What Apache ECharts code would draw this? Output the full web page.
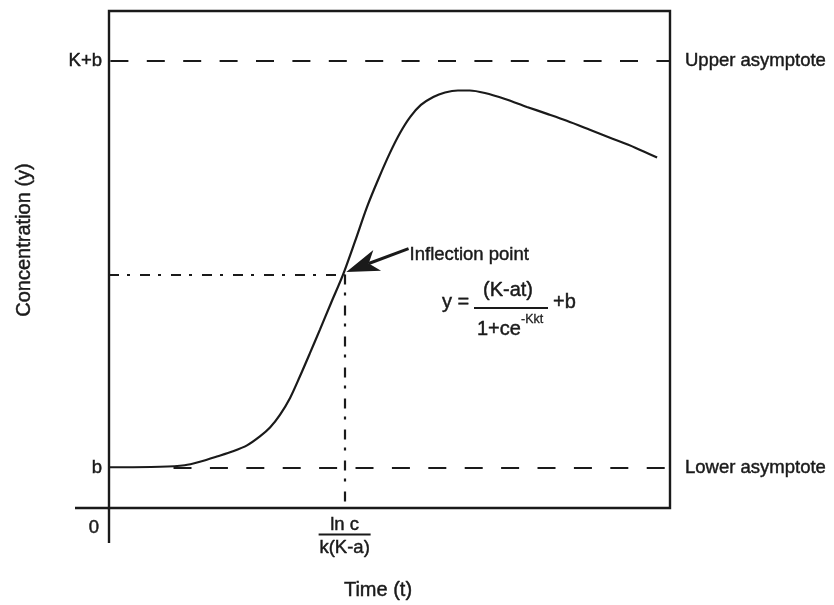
<!DOCTYPE html>
<html>
<head>
<meta charset="utf-8">
<script src="https://cdn.jsdelivr.net/npm/echarts@6/dist/echarts.min.js"></script>
<style>
  html, body { margin: 0; padding: 0; background: #fff; }
  #chart { width: 834px; height: 605px; }
</style>
</head>
<body>
<div id="chart"></div>
<script>
// Growth curve: time (x) vs concentration (y), both on a 0–100 relative scale
const timeValues = [0, 9.1, 13.5, 16.2, 19.4, 22.1, 24.6, 26.9, 28.7, 30.5, 32.3, 34.0, 35.8, 37.6, 39.6, 41.7,
  43.9, 46.0, 48.1, 50.1, 51.9, 53.7, 55.6, 57.8, 59.9, 62.2, 64.3, 67.0, 70.6, 74.5, 78.1, 81.6, 85.7, 89.3, 93.8, 97.7];
const concValues = [8.2, 8.3, 8.6, 9.3, 10.4, 11.4, 12.6, 14.4, 16.2, 18.8, 22.2, 26.4, 31.1, 35.9, 41.3, 46.9,
  53.8, 60.6, 66.4, 71.5, 75.5, 78.7, 81.1, 82.7, 83.6, 84.0, 84.0, 83.5, 82.3, 80.7, 79.3, 77.9, 76.1, 74.5, 72.5, 70.5];

// Reference levels
const upperAsymptote = 90;   // K+b
const lowerAsymptote = 8;    // b
const lowerDashStart = 11.5; // lower guide begins where the curve lifts off
const inflection = [42, 47]; // (ln c / k(K-a), mid level)
const arrowTip = [42.3, 47.5];
const arrowTail = [53.4, 52.2];

// Tick labels
const yTickValues = [lowerAsymptote, upperAsymptote];
const yTickLabels = { 8: 'b', 90: 'K+b' };
const xTickValues = [inflection[0]];

const ink = '#1a1a1a';
const font = '"Liberation Sans", Arial, Helvetica, sans-serif';
const fs = 18.5;
const heavy = 0.45; // slight outline to give the lettering some weight

const chart = echarts.init(document.getElementById('chart'), null, { renderer: 'canvas' });

const dashed = { color: ink, width: 2.2, type: [18, 18.4] };
const dashDot = { color: ink, width: 2.2, type: [10, 8, 3, 10] };

chart.setOption({
  animation: false,
  grid: {
    left: 109, right: 164, top: 11, bottom: 97,
    show: true, borderColor: ink, borderWidth: 2.4, backgroundColor: 'transparent'
  },
  xAxis: {
    type: 'value', min: 0, max: 100,
    axisLine: { show: false }, axisTick: { show: false }, splitLine: { show: false },
    axisLabel: {
      customValues: xTickValues,
      margin: 8,
      formatter: () => '{n|ln c}\n{bar| }\n{d|k(K-a)}',
      rich: {
        n: { fontSize: fs, fontFamily: font, color: ink, lineHeight: 17, align: 'center', textBorderColor: ink, textBorderWidth: heavy },
        bar: { width: 52, height: 2, backgroundColor: ink, fontSize: 1, lineHeight: 3 },
        d: { fontSize: fs, fontFamily: font, color: ink, lineHeight: 23, align: 'center', textBorderColor: ink, textBorderWidth: heavy }
      }
    }
  },
  yAxis: {
    type: 'value', min: 0, max: 100,
    axisLine: { show: false }, axisTick: { show: false }, splitLine: { show: false },
    axisLabel: {
      customValues: yTickValues,
      formatter: v => yTickLabels[v] || '',
      color: ink, fontSize: fs, fontFamily: font, margin: 7,
      textBorderColor: ink, textBorderWidth: heavy
    }
  },
  series: [{
    type: 'line',
    data: timeValues.map((t, i) => [t, concValues[i]]),
    smooth: 0.3,
    symbol: 'none',
    lineStyle: { color: ink, width: 2.2 },
    z: 5,
    markLine: {
      silent: true,
      symbol: ['none', 'none'],
      label: { show: false },
      z: 3,
      data: [
        { yAxis: upperAsymptote, lineStyle: Object.assign({ dashOffset: 35 }, dashed) },
        [{ coord: [lowerDashStart, lowerAsymptote], lineStyle: dashed }, { coord: [100, lowerAsymptote] }],
        [{ coord: [0, inflection[1]], lineStyle: dashDot }, { coord: inflection }],
        [{ coord: inflection, lineStyle: dashDot }, { coord: [inflection[0], 0] }]
      ]
    }
  }]
});

// Annotations placed through the chart's own coordinate conversion
const px = p => chart.convertToPixel({ gridIndex: 0 }, p);
const origin = px([0, 0]);
const upY = px([0, upperAsymptote])[1];
const lowY = px([0, lowerAsymptote])[1];
const rightX = px([100, 0])[0];
const tip = px(arrowTip);
const tail = px(arrowTail);

// notched arrow head
const dx = tail[0] - tip[0], dy = tail[1] - tip[1];
const len = Math.hypot(dx, dy);
const ux = dx / len, uy = dy / len;
const nx = -uy, ny = ux;
const headL = 33, headW = 11, notch = 9;
const headPts = [
  [tip[0], tip[1]],
  [tip[0] + ux * headL + nx * headW, tip[1] + uy * headL + ny * headW],
  [tip[0] + ux * (headL - notch), tip[1] + uy * (headL - notch)],
  [tip[0] + ux * headL - nx * headW, tip[1] + uy * headL - ny * headW]
];

const txt = (x, y, text, extra) => ({
  type: 'text', x, y, silent: true,
  style: Object.assign({
    text, fill: ink, font: fs + 'px ' + font, textVerticalAlign: 'middle', textAlign: 'left',
    stroke: ink, lineWidth: heavy
  }, extra || {})
});
const ff = 20; // formula size

chart.setOption({
  graphic: [
    // axis extensions past the origin
    { type: 'line', silent: true, shape: { x1: origin[0], y1: origin[1], x2: origin[0], y2: origin[1] + 35 }, style: { stroke: ink, lineWidth: 2.4 } },
    { type: 'line', silent: true, shape: { x1: origin[0] - 34, y1: origin[1], x2: origin[0], y2: origin[1] }, style: { stroke: ink, lineWidth: 2.4 } },
    txt(origin[0] - 15, origin[1] + 20, '0', { textAlign: 'center' }),

    // asymptote labels
    txt(rightX + 15, upY, 'Upper asymptote'),
    txt(rightX + 15, lowY, 'Lower asymptote'),

    // inflection arrow
    { type: 'line', silent: true, shape: { x1: tip[0] + ux * (headL - notch), y1: tip[1] + uy * (headL - notch), x2: tail[0], y2: tail[1] }, style: { stroke: ink, lineWidth: 3 } },
    { type: 'polygon', silent: true, shape: { points: headPts }, style: { fill: ink } },
    txt(tail[0] + 1, tail[1] + 6, 'Inflection point'),

    // formula  y = (K-at) / (1+ce^-Kkt) + b
    txt(442, 302, 'y =', { font: ff + 'px ' + font }),
    txt(508, 290, '(K-at)', { textAlign: 'center', font: ff + 'px ' + font }),
    { type: 'line', silent: true, shape: { x1: 474, y1: 308, x2: 548, y2: 308 }, style: { stroke: ink, lineWidth: 2.2 } },
    txt(477, 329, '1+ce', { font: ff + 'px ' + font }),
    txt(521, 320, '-Kkt', { font: '12.5px ' + font, lineWidth: 0.3 }),
    txt(553, 302, '+b', { font: ff + 'px ' + font }),

    // axis titles
    {
      type: 'text', silent: true, x: 24, y: 240, rotation: Math.PI / 2,
      style: { text: 'Concentration (y)', fill: ink, font: '20px ' + font, textAlign: 'center', textVerticalAlign: 'middle', stroke: ink, lineWidth: heavy }
    },
    txt(378, 590, 'Time (t)', { textAlign: 'center', font: '20px ' + font })
  ]
});
</script>
</body>
</html>
